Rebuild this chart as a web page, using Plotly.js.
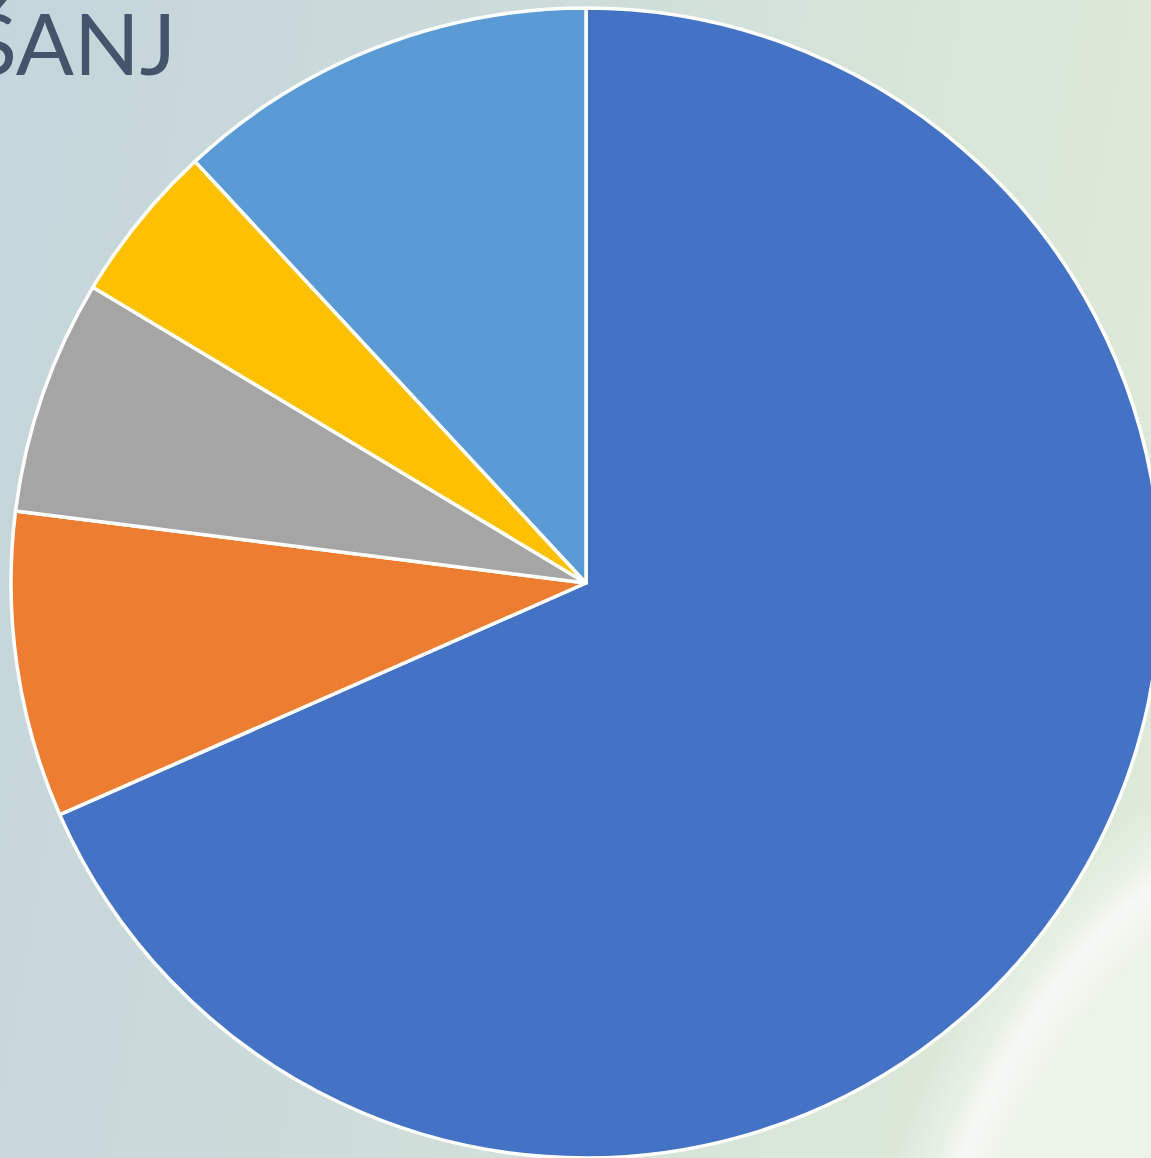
<!DOCTYPE html>
<html>
<head>
<meta charset="utf-8">
<script src="https://cdn.plot.ly/plotly-3.0.1.min.js"></script>
<style>
html,body{margin:0;padding:0;width:1151px;height:1158px;overflow:hidden;}
body{
  background:
    radial-gradient(ellipse 570px 710px at 1450px 1450px, rgba(236,244,232,0.85) 0%, rgba(238,245,235,0.85) 88%, rgba(247,250,245,0.95) 95%, rgba(240,246,237,0.6) 99%, rgba(224,236,220,0) 106%),
    linear-gradient(100deg, #c4d5dc 0%, #cddcd9 40%, #d8e6d8 70%, #dfebd9 100%);
}
#chart{position:absolute;left:0;top:0;width:1172px;height:1158px;}
</style>
</head>
<body>
<div id="chart"></div>
<script>
const labels = ["A", "B", "C", "D", "E"];
const values = [68.4, 8.6, 6.6, 4.5, 11.9];
const colors = ["#4472c4", "#ed7d31", "#a5a5a5", "#ffc000", "#5b9bd5"];
const titleText = "ŠANJ";

Plotly.newPlot("chart", [{
  type: "pie",
  labels: labels,
  values: values,
  sort: false,
  direction: "clockwise",
  rotation: 0,
  textinfo: "none",
  hoverinfo: "label+percent",
  marker: {colors: colors, line: {color: "#ffffff", width: 3.5}}
}], {
  width: 1172,
  height: 1158,
  margin: {l: 11, r: 11, t: 8, b: 0, pad: 0},
  paper_bgcolor: "rgba(0,0,0,0)",
  plot_bgcolor: "rgba(0,0,0,0)",
  showlegend: false,
  title: {
    text: titleText,
    font: {family: "Lato, 'Open Sans', sans-serif", size: 86, color: "#44546a"},
    x: 176/1172, xanchor: "right",
    xref: "container", yref: "container",
    y: 1 - 75/1158, yanchor: "bottom"
  }
}, {displayModeBar: false, staticPlot: true});
</script>
</body>
</html>
